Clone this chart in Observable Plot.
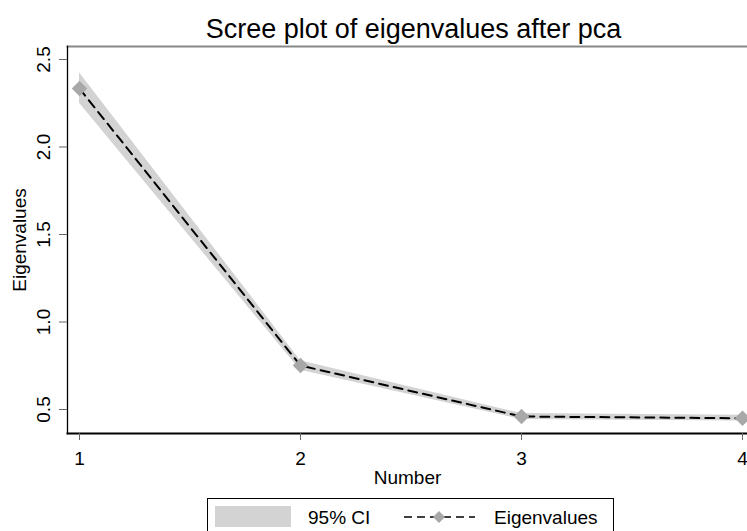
<!DOCTYPE html>
<html><head><meta charset="utf-8">
<script src="https://cdn.jsdelivr.net/npm/d3@7"></script>
<script src="https://cdn.jsdelivr.net/npm/@observablehq/plot@0.6"></script>
<style>
body{margin:0;background:#fff;font-family:Arial,"Liberation Sans",sans-serif;}
#wrap{position:relative;width:747px;height:531px;overflow:hidden;background:#fff;}
#legend{position:absolute;left:207px;top:498px;width:407px;height:45px;border:1px solid #000;box-sizing:border-box;background:#fff;}
#legend .sw{position:absolute;left:7px;top:7px;width:76px;height:21px;background:#d3d3d3;}
#legend .t{position:absolute;font-size:19px;line-height:19px;top:9px;color:#000;}
#legend svg{position:absolute;left:195px;top:7px;}
</style></head><body><div id="wrap"></div>
<script>
const title = "Scree plot of eigenvalues after pca";
const xLabel = "Number";
const yLabel = "Eigenvalues";
const numbers = [1, 2, 3, 4];
const eigenvalues = [2.334, 0.751, 0.460, 0.450];
const ciLower = [2.250, 0.724, 0.443, 0.434];
const ciUpper = [2.425, 0.779, 0.477, 0.467];
const xTicks = [1, 2, 3, 4];
const yTicks = [0.5, 1.0, 1.5, 2.0, 2.5];
const legendLabels = ["95% CI", "Eigenvalues"];

const data = numbers.map((n, i) => ({n, e: eigenvalues[i], lo: ciLower[i], hi: ciUpper[i]}));
const font = "Arial, 'Liberation Sans', sans-serif";

const chart = Plot.plot({
  width: 747,
  height: 490,
  marginLeft: 67,
  marginRight: 0,
  marginTop: 46,
  marginBottom: 57,
  style: {fontFamily: font, background: "#fff", color: "#000", overflow: "visible"},
  x: {domain: [1, 4], insetLeft: 12, insetRight: 5},
  y: {domain: [0.5, 2.5], insetTop: 13, insetBottom: 24},
  marks: [
    Plot.areaY(data, {x: "n", y1: "lo", y2: "hi", fill: "#d3d3d3"}),
    Plot.line(data, {x: "n", y: "e", stroke: "#000", strokeWidth: 2, strokeDasharray: "9,6"}),
    Plot.dot(data, {x: "n", y: "e", symbol: "diamond2", fill: "#a8a8a8", r: 7}),
    Plot.frame({anchor: "top", stroke: "#888", strokeWidth: 2}),
    Plot.frame({anchor: "left", stroke: "#000", strokeWidth: 1.3}),
    Plot.frame({anchor: "bottom", stroke: "#000", strokeWidth: 2}),
    Plot.axisX({ticks: xTicks, tickSize: 7, tickFormat: () => "", stroke: "#666", label: null}),
    Plot.axisY({ticks: yTicks, tickSize: 8, tickFormat: () => "", stroke: "#666", label: null}),
    Plot.text(xTicks, {x: d => d, text: d => String(d), frameAnchor: "bottom", dy: 25, lineAnchor: "middle", fontSize: 19, fill: "#000"}),
    Plot.text(yTicks, {y: d => d, text: d => d.toFixed(1), frameAnchor: "left", dx: -24, rotate: -90, lineAnchor: "middle", textAnchor: "middle", fontSize: 19, fill: "#000"}),
    Plot.text([xLabel], {text: d => d, frameAnchor: "bottom", dy: 44, lineAnchor: "middle", fontSize: 19, fill: "#000"}),
    Plot.text([yLabel], {text: d => d, frameAnchor: "left", dx: -48, rotate: -90, lineAnchor: "middle", textAnchor: "middle", fontSize: 19, fill: "#000"}),
    Plot.text([title], {text: d => d, frameAnchor: "top", dx: 6, dy: -17, lineAnchor: "middle", fontSize: 27, fill: "#000"})
  ]
});
const wrap = document.getElementById("wrap");
wrap.appendChild(chart);

const legend = document.createElement("div");
legend.id = "legend";
legend.innerHTML = `<div class="sw"></div><div class="t" style="left:100px">${legendLabels[0]}</div>
<svg width="74" height="22"><line x1="1" y1="11" x2="72" y2="11" stroke="#000" stroke-width="1.6" stroke-dasharray="8,5"/>
<path d="M36,5 L42,11 L36,17 L30,11 Z" fill="#a8a8a8"/></svg>
<div class="t" style="left:286px">${legendLabels[1]}</div>`;
wrap.appendChild(legend);
</script></body></html>
